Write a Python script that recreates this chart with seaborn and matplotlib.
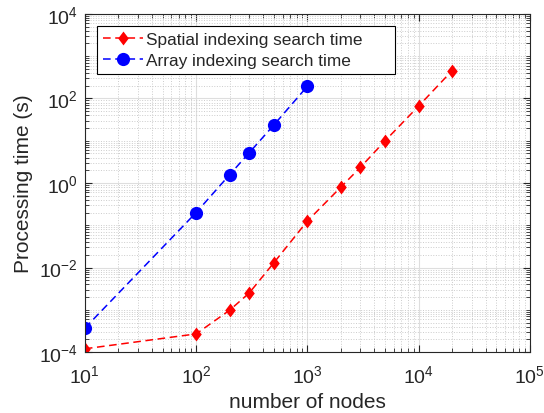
import numpy as np
import pandas as pd
import matplotlib
matplotlib.use("Agg")
import matplotlib.pyplot as plt
import seaborn as sns
from matplotlib.ticker import LogLocator, NullFormatter, FixedLocator

# Measured search times (seconds) against graph size
spatial_nodes = [10, 100, 200, 300, 500, 1000, 2000, 3000, 5000, 10000, 20000]
spatial_time = [1.2e-4, 2.7e-4, 9.8e-4, 2.5e-3, 1.3e-2, 0.126, 0.8, 2.35, 10.0, 66.0, 455.0]

array_nodes = [10, 100, 200, 300, 500, 1000]
array_time = [3.7e-4, 0.2, 1.57, 5.2, 23.6, 194.0]

series_names = ["Spatial indexing search time", "Array indexing search time"]
y_major = [1e-4, 1e-2, 1e0, 1e2, 1e4]

df = pd.concat([
    pd.DataFrame({"nodes": spatial_nodes, "time": spatial_time, "method": series_names[0]}),
    pd.DataFrame({"nodes": array_nodes, "time": array_time, "method": series_names[1]}),
], ignore_index=True)

sns.set_style("ticks")
plt.rcParams["font.family"] = ["Liberation Sans", "DejaVu Sans"]
plt.rcParams["mathtext.fontset"] = "custom"
plt.rcParams["mathtext.rm"] = "Liberation Sans"
plt.rcParams["mathtext.it"] = "Liberation Sans"

fig = plt.figure(figsize=(5.44, 4.14), dpi=100)
ax = fig.add_axes([0.156, 0.147, 0.818, 0.817])

diamond = [(0, 1), (0.76, 0), (0, -1), (-0.76, 0), (0, 1)]
sns.lineplot(
    data=df, x="nodes", y="time", hue="method", style="method",
    hue_order=series_names, style_order=series_names,
    palette={series_names[0]: "#ff0000", series_names[1]: "#0000ff"},
    markers={series_names[0]: diamond, series_names[1]: "o"},
    dashes={series_names[0]: (5, 3), series_names[1]: (5, 3)},
    markersize=10, markeredgewidth=0, linewidth=1.1, ax=ax,
    estimator=None, sort=False,
)
# circles slightly smaller than the diamonds
for line in ax.get_lines():
    if line.get_marker() == "o":
        line.set_markersize(9.5)

ax.set_xscale("log")
ax.set_yscale("log")
ax.set_xlim(10, 1e5)
ax.set_ylim(1e-4, 1e4)
ax.xaxis.set_major_locator(LogLocator(base=10, numticks=10))
ax.xaxis.set_minor_locator(LogLocator(base=10, subs=np.arange(2, 10), numticks=20))
ax.yaxis.set_major_locator(FixedLocator(y_major))
# minor ticks: every 1..9 multiple, skipping the labelled decades
y_minor = [m * 10.0 ** e for e in range(-4, 4) for m in range(1, 10)
           if not (m == 1 and 10.0 ** e in y_major)]
ax.yaxis.set_minor_locator(FixedLocator(y_minor))
ax.xaxis.set_minor_formatter(NullFormatter())
ax.yaxis.set_minor_formatter(NullFormatter())

ax.grid(True, which="major", color="#dedede", linestyle="-", linewidth=0.8)
ax.grid(True, which="minor", color="#cccccc", linestyle=":", linewidth=0.7)
ax.set_axisbelow(True)

for side in ["top", "right", "left", "bottom"]:
    ax.spines[side].set_visible(True)
    ax.spines[side].set_color("#262626")
    ax.spines[side].set_linewidth(0.8)

ax.tick_params(which="both", direction="in", top=True, right=True,
               labelsize=14, colors="#262626", labelcolor="#262626")
ax.tick_params(which="major", length=5)
ax.tick_params(which="minor", length=3)
ax.tick_params(axis="x", which="major", pad=9)
ax.tick_params(axis="y", which="major", pad=5)

ax.set_xlabel("number of nodes", fontsize=15, color="#262626", labelpad=4)
ax.set_ylabel("Processing time (s)", fontsize=15, color="#262626")

leg = ax.legend(loc="upper left", bbox_to_anchor=(0.027, 0.0, 0.67, 0.965),
                mode="expand", borderaxespad=0, fontsize=12.4, frameon=True,
                fancybox=False, edgecolor="black", framealpha=1,
                handlelength=2.3, handletextpad=0.2, borderpad=0.35,
                labelspacing=0.35)
leg.get_frame().set_linewidth(0.8)

fig.savefig("out.png", dpi=100)
